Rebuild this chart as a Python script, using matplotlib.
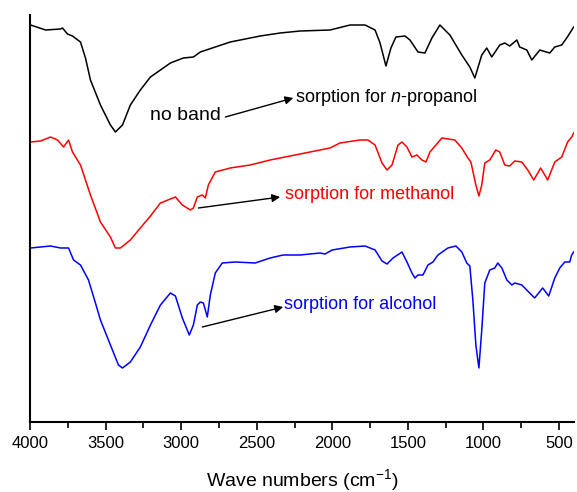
import matplotlib
matplotlib.use("Agg")
import matplotlib.pyplot as plt
import numpy as np

plt.rcParams.update({
    'font.family': ['Liberation Sans', 'DejaVu Sans'],
    'mathtext.fontset': 'custom',
    'mathtext.rm': 'Liberation Sans',
    'mathtext.it': 'Liberation Sans:italic',
    'font.size': 12,
})

# FTIR spectra, arbitrary transmittance units (offset for display)
wn_propanol = [3996, 3897, 3798, 3785, 3752, 3719, 3666, 3633, 3600, 3534, 3468, 3435, 3388,
               3336, 3270, 3203, 3071, 2986, 2919, 2873, 2675, 2477, 2345, 2213, 2015, 1882,
               1783, 1717, 1684, 1645, 1612, 1579, 1519, 1486, 1433, 1387, 1341, 1288, 1222,
               1143, 1090, 1057, 1011, 978, 945, 892, 859, 826, 779, 760, 713, 680, 627, 561,
               528, 482, 449, 403]
t_propanol = [400, 395, 396, 397, 391, 389, 383, 367, 345, 320, 300, 293, 300,
              320, 335, 348, 362, 367, 368, 373, 383, 389, 392, 394, 395, 400,
              400, 395, 382, 359, 377, 388, 389, 385, 373, 372, 387, 400, 390,
              370, 358, 347, 370, 377, 368, 380, 382, 379, 385, 378, 375, 365, 375, 372,
              378, 380, 387, 398]

wn_methanol = [3996, 3930, 3864, 3818, 3778, 3745, 3719, 3666, 3600, 3534, 3468, 3435, 3402,
               3336, 3270, 3203, 3137, 3071, 3038, 2992, 2939, 2919, 2893, 2860, 2840, 2820,
               2774, 2675, 2543, 2411, 2213, 2081, 2015, 1949, 1816, 1764, 1717, 1671, 1638,
               1605, 1565, 1539, 1506, 1473, 1440, 1407, 1380, 1354, 1314, 1275, 1189, 1143,
               1103, 1083, 1050, 1030, 1011, 991, 958, 918, 892, 859, 826, 793, 746, 707, 667,
               621, 575, 528, 482, 443, 416, 403]
t_methanol = [283, 284, 288, 285, 278, 285, 273, 260, 230, 203, 188, 177, 177,
              185, 197, 209, 222, 226, 228, 220, 215, 217, 228, 230, 227, 240,
              253, 257, 260, 265, 271, 275, 277, 282, 285, 285, 280, 262, 255,
              260, 280, 283, 278, 268, 270, 265, 263, 273, 280, 287, 285, 277,
              267, 263, 240, 229, 240, 262, 265, 275, 273, 260, 259, 264, 263, 255, 245,
              257, 245, 263, 268, 283, 288, 292]

wn_alcohol = [3996, 3864, 3798, 3745, 3712, 3666, 3613, 3567, 3534, 3468, 3415, 3388, 3336,
              3270, 3203, 3137, 3071, 3038, 2992, 2946, 2919, 2893, 2873, 2853, 2827, 2807,
              2774, 2728, 2642, 2510, 2411, 2325, 2213, 2081, 2048, 2001, 1882, 1783, 1717,
              1671, 1638, 1598, 1539, 1506, 1473, 1453, 1433, 1400, 1367, 1334, 1301, 1235,
              1182, 1143, 1110, 1090, 1070, 1050, 1030, 1011, 991, 958, 925, 905, 878, 845,
              812, 793, 746, 694, 661, 608, 568, 528, 495, 462, 429, 416, 403]
t_alcohol = [177, 179, 177, 177, 165, 160, 145, 122, 105, 80, 60, 57, 63,
             78, 100, 120, 132, 129, 107, 90, 100, 120, 123, 122, 108, 130,
             152, 162, 163, 162, 167, 170, 170, 172, 171, 175, 178, 179, 175,
             164, 161, 167, 173, 163, 152, 147, 150, 150, 160, 163, 170, 177,
             179, 173, 162, 159, 125, 80, 57, 95, 142, 155, 157, 162, 157, 145,
             140, 142, 140, 132, 127, 137, 129, 147, 157, 163, 163, 170, 173]

fig = plt.figure(figsize=(5.77, 4.92), dpi=100)
ax = fig.add_axes([0.052, 0.1423, 0.943, 0.8272])

ax.plot(wn_propanol, t_propanol, color='black', lw=1.1)
ax.plot(wn_methanol, t_methanol, color='#ff0000', lw=1.1)
ax.plot(wn_alcohol, t_alcohol, color='#0000ff', lw=1.1)

ax.set_xlim(4000, 400)
ax.set_ylim(3, 410)
ax.set_xticks([4000, 3500, 3000, 2500, 2000, 1500, 1000, 500])
ax.set_xticks(np.arange(3750, 400, -500), minor=True)
ax.set_yticks([])
ax.tick_params(axis='x', which='major', direction='out', length=6, width=1.2, labelsize=12, pad=4)
ax.tick_params(axis='x', which='minor', direction='out', length=4, width=1.2)
for s in ['top', 'right']:
    ax.spines[s].set_visible(False)
for s in ['left', 'bottom']:
    ax.spines[s].set_linewidth(1.5)
ax.set_xlabel('Wave numbers (cm$^{-1}$)', fontsize=14, labelpad=12)

arrow = dict(arrowstyle='-|>', color='black', lw=1.0, mutation_scale=12, shrinkA=0, shrinkB=0)
ax.text(3203, 310, 'no band', fontsize=14, va='center', ha='left')
ax.annotate('', xy=(2258, 327), xytext=(2707, 308), arrowprops=arrow)
ax.text(2246, 328, 'sorption for $n$-propanol', fontsize=13, va='center', ha='left')

ax.annotate('', xy=(2345, 228), xytext=(2886, 217), arrowprops=arrow)
ax.text(2312, 230, 'sorption for methanol', fontsize=13, va='center', ha='left', color='#ff0000')

ax.annotate('', xy=(2325, 118), xytext=(2860, 98), arrowprops=arrow)
ax.text(2319, 120, 'sorption for alcohol', fontsize=13, va='center', ha='left', color='#0000ff')

fig.savefig('out.png', dpi=100)
